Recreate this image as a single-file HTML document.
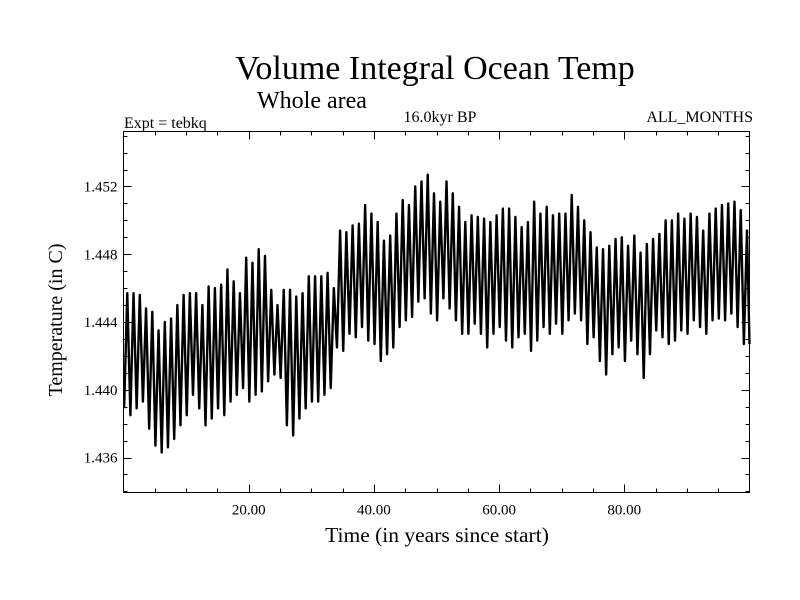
<!DOCTYPE html>
<html><head><meta charset="utf-8"><style>
body{margin:0;background:#fff}
svg{display:block;font-family:"Liberation Serif",serif}
</style></head><body>
<svg id="chart" width="800" height="600">
<text x="435" y="79" font-size="34" text-anchor="middle">Volume Integral Ocean Temp</text>
<text x="312" y="108" font-size="24" text-anchor="middle">Whole area</text>
<text x="124" y="128" font-size="16">Expt = tebkq</text>
<text x="440" y="122" font-size="16" text-anchor="middle">16.0kyr BP</text>
<text x="753" y="122" font-size="16" text-anchor="end">ALL_MONTHS</text>
<text x="437" y="542" font-size="21.5" text-anchor="middle">Time (in years since start)</text>
<text transform="translate(62,320) rotate(-90)" font-size="20" text-anchor="middle">Temperature (in C)</text>
<g id="axes"></g>
<path id="series" fill="none" stroke="#000" stroke-width="2.4" stroke-linejoin="round"></path>
<rect x="123.5" y="131.5" width="626" height="361" fill="none" stroke="#000" stroke-width="1"/>
</svg>
<script>
const yTickValues=[1.436,1.440,1.444,1.448,1.452];
const yTickLabels=["1.436","1.440","1.444","1.448","1.452"];
const xTickValues=[20,40,60,80];
const xTickLabels=["20.00","40.00","60.00","80.00"];
const annualMax=[1.4457,1.4457,1.4456,1.4448,1.4446,1.4435,1.4440,1.4442,1.4450,1.4456,1.4457,1.4457,1.4450,1.4461,1.4460,1.4462,1.4471,1.4464,1.4457,1.4478,1.4475,1.4483,1.4479,1.4459,1.4450,1.4459,1.4459,1.4455,1.4457,1.4467,1.4467,1.4467,1.4469,1.4460,
1.4494,1.4493,1.4497,1.4498,1.4509,1.4504,1.4499,1.4488,1.4491,1.4504,1.4512,1.4509,1.4520,1.4523,1.4527,1.4516,1.4511,1.4523,1.4516,1.4508,1.4499,1.4503,1.4502,1.4501,1.4499,1.4503,1.4507,1.4507,1.4502,1.4496,1.4499,1.4511,1.4504,1.4508,1.4503,
1.4504,1.4504,1.4515,1.4508,1.4500,1.4493,1.4484,1.4483,1.4485,1.4489,1.4490,1.4485,1.4491,1.4481,1.4486,1.4489,1.4492,1.4500,1.4500,1.4504,1.4501,1.4504,1.4502,1.4494,1.4504,1.4507,1.4509,1.4510,1.4511,1.4506,1.4494];
const annualMin=[1.4389,1.4385,1.4389,1.4393,1.4377,1.4367,1.4363,1.4366,1.4371,1.4379,1.4385,1.4397,1.4389,1.4379,1.4383,1.4389,1.4385,1.4393,1.4397,1.4401,1.4393,1.4397,1.4399,1.4405,1.4409,1.4407,1.4379,1.4373,1.4383,1.4389,1.4393,1.4393,1.4397,1.4401,
1.4425,1.4423,1.4433,1.4431,1.4437,1.4429,1.4427,1.4417,1.4421,1.4425,1.4437,1.4441,1.4443,1.4452,1.4454,1.4445,1.4441,1.4454,1.4448,1.4441,1.4433,1.4433,1.4439,1.4433,1.4425,1.4433,1.4437,1.4429,1.4425,1.4431,1.4433,1.4423,1.4429,1.4437,1.4433,
1.4439,1.4433,1.4441,1.4445,1.4441,1.4427,1.4431,1.4417,1.4409,1.4421,1.4425,1.4417,1.4429,1.4421,1.4407,1.4421,1.4435,1.4431,1.4427,1.4429,1.4435,1.4433,1.4441,1.4437,1.4433,1.4441,1.4442,1.4441,1.4445,1.4437,1.4427];

const X0=123.5,X1=749.5,Y0=131.5,Y1=492.5;
function xs(t){return X0+(t-0)/(100-0)*(X1-X0);}
function ys(v){return 457.5-(v-1.436)/0.016*271;}
const NS="http://www.w3.org/2000/svg";
const axes=document.getElementById('axes');
function line(x1,y1,x2,y2,name){
  const l=document.createElementNS(NS,'line');
  l.setAttribute('x1',x1);l.setAttribute('y1',y1);l.setAttribute('x2',x2);l.setAttribute('y2',y2);
  l.setAttribute('stroke','#000');l.setAttribute('stroke-width','1');
  
  
  axes.appendChild(l);
}
function text(x,y,s,anchor,name){
  const t=document.createElementNS(NS,'text');
  t.setAttribute('x',x);t.setAttribute('y',y);t.setAttribute('font-size','15');t.setAttribute('text-anchor',anchor);
  t.textContent=s;
  
  
  axes.appendChild(t);
}
for(let k=1434;k<=1455;k++){
  const v=k/1000, y=Math.round(ys(v))+0.5;
  if(y<Y0||y>Y1) continue;
  const major=(k%4===0);
  const len=major?8:4;
  line(X0,y,X0+len,y,'y-tick');
  line(X1,y,X1-len,y,'y-tick-right');
}
yTickValues.forEach((v,i)=>{text(X0-6,ys(v)+5,yTickLabels[i],'end','y-tick-label');});
for(let t=5;t<100;t+=5){
  const x=Math.round(xs(t))+0.5;
  const len=(t%20===0)?8:4;
  line(x,Y1,x,Y1-len,'x-tick');
  line(x,Y0,x,Y0+len,'x-tick-top');
}
xTickValues.forEach((t,i)=>{text(xs(t),Y1+22,xTickLabels[i],'middle','x-tick-label');});
let d='';
for(let i=0;i<annualMax.length;i++){
  const xa=xs(i+0.1), xb=xs(i+0.6);
  d+=(i===0?'M':'L')+xa.toFixed(2)+','+ys(annualMin[i]).toFixed(2)+'L'+xb.toFixed(2)+','+ys(annualMax[i]).toFixed(2);
}
d+='L'+xs(100).toFixed(2)+','+ys(annualMin[annualMin.length-1]).toFixed(2);
document.getElementById('series').setAttribute('d',d);
</script>
</body></html>
